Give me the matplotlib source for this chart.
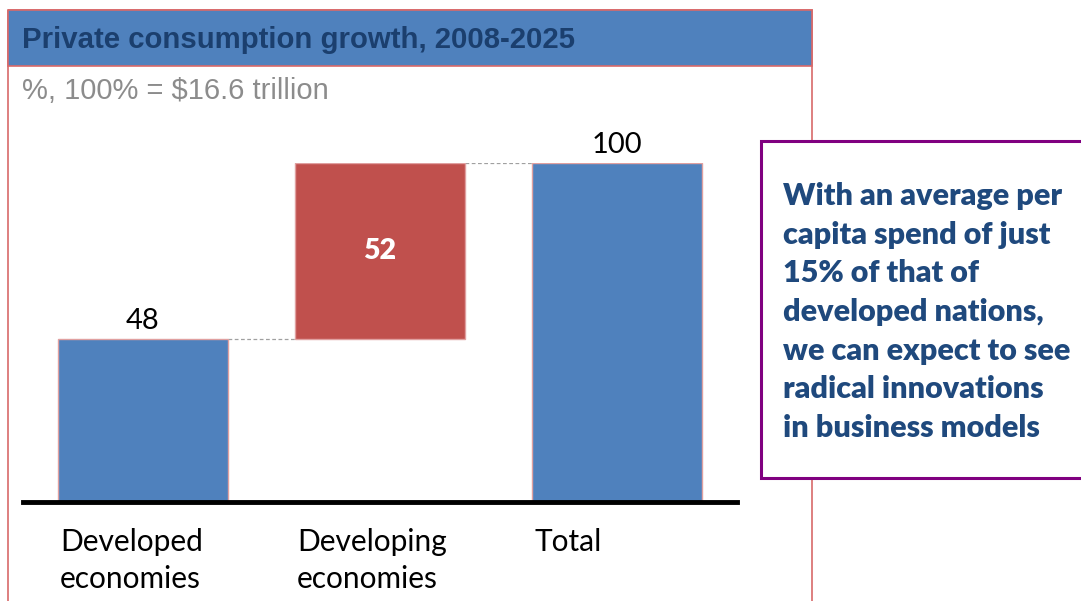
import matplotlib.pyplot as plt
from matplotlib.patches import Rectangle

categories = ['Developed\neconomies', 'Developing\neconomies', 'Total']
values = [48, 52, 100]
bottoms = [0, 48, 0]
bar_colors = ['#4F81BD', '#C0504D', '#4F81BD']

title = 'Private consumption growth, 2008-2025'
subtitle = '%, 100% = $16.6 trillion'
callout = ('With an average per\ncapita spend of just\n15% of that of\n'
           'developed nations,\nwe can expect to see\nradical innovations\n'
           'in business models')

W, H = 1081, 601
fig = plt.figure(figsize=(W / 100, H / 100), dpi=100)

# background layer in pixel coordinates for the frame, header and callout
bg = fig.add_axes([0, 0, 1, 1])
bg.set_xlim(0, W)
bg.set_ylim(H, 0)
bg.axis('off')

bg.add_patch(Rectangle((8, 10), 804, 640, fill=False, edgecolor='#D8696A', lw=1.2, zorder=1))
bg.add_patch(Rectangle((8, 10), 804, 56, facecolor='#4F81BD', edgecolor='#D8696A', lw=1.2, zorder=2))
bg.text(22, 40, title, fontsize=21.2, fontweight='bold', color='#1B3F6E',
        family='Liberation Sans', va='center', ha='left', zorder=3)
bg.text(22, 91, subtitle, fontsize=21, color='#8C8C8C',
        family='Liberation Sans', va='center', ha='left', zorder=3)

bg.add_patch(Rectangle((761, 141), 340, 337, facecolor='white', edgecolor='#800080', lw=2.2, zorder=4))
bg.text(783, 312, callout, fontsize=22, fontweight='heavy', color='#1F497D',
        family='Lato', va='center', ha='left', linespacing=1.46, zorder=5)

# waterfall chart: value 0 at y=502 px, 100 at y=163 px
x0, x1 = 23, 737
ax = fig.add_axes([x0 / W, (H - 502) / H, (x1 - x0) / W, 339 / H])
ax.set_xlim(-0.506, 2.506)
ax.set_ylim(0, 100)
ax.axis('off')

width = 0.72
xs = range(len(values))
ax.bar(xs, values, width, bottom=bottoms, color=bar_colors,
       edgecolor='#E0A0A0', linewidth=1, zorder=2)

# dashed connectors between steps
for i in range(len(values) - 1):
    level = bottoms[i] + values[i]
    ax.plot([i + width / 2, i + 1 - width / 2], [level, level],
            ls=(0, (3, 2)), color='#A0A0A0', lw=0.9, zorder=1)

ax.axhline(0, color='black', lw=3.5, zorder=3, clip_on=False)

for i, (v, b) in enumerate(zip(values, bottoms)):
    if i == 1:
        ax.text(i, b + v / 2, str(v), ha='center', va='center', fontsize=20.5,
                fontweight='heavy', color='white', family='Lato')
    else:
        ax.text(i, b + v + 1.5, str(v), ha='center', va='bottom', fontsize=21,
                color='black', family='Lato')

for i, lab in enumerate(categories):
    ax.text(i - width / 2 + 0.01, -7.6, lab, ha='left', va='top', fontsize=21.5,
            color='black', family='Lato', linespacing=1.4, clip_on=False)

fig.savefig('out.png', dpi=100)
